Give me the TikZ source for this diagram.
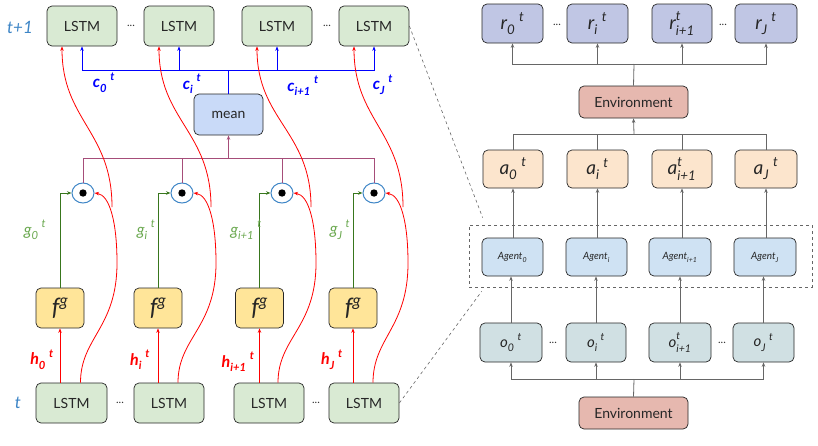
\documentclass[tikz,border=0pt]{standalone}
\usepackage{fontspec}
\setmainfont{Lato}
\usetikzlibrary{arrows.meta,calc,shapes.geometric}
\definecolor{lstmfill}{HTML}{D9EAD3}
\definecolor{fgfill}{HTML}{FFE599}
\definecolor{meanfill}{HTML}{C9DAF8}
\definecolor{rfill}{HTML}{C0C6E4}
\definecolor{envfill}{HTML}{E6B8AF}
\definecolor{afill}{HTML}{FCE5CD}
\definecolor{agfill}{HTML}{CFE2F3}
\definecolor{ofill}{HTML}{D0E0E3}
\definecolor{tblue}{HTML}{3D85C6}
\definecolor{ggreen}{HTML}{6AA84F}
\definecolor{dgreen}{HTML}{38761D}
\definecolor{purp}{HTML}{A64D79}
\definecolor{cblue}{HTML}{0000FF}
\definecolor{hred}{HTML}{FF0000}
\definecolor{edge}{HTML}{666666}
\newcommand\ssub[3]{#1\textsubscript{\raisebox{-0.2em}{#3}}\hspace{0.2em}\textsuperscript{\raisebox{0.1em}{#2}}}
\newcommand\susb[3]{#1\rlap{\textsuperscript{\raisebox{0.2em}{#2}}}\textsubscript{\raisebox{-0.25em}{#3}}}
\newcommand\agsub[1]{\textsubscript{\raisebox{-0.2em}{#1}}}
\tikzset{
  boxbase/.style={draw=black!85, rounded corners=5pt, line width=0.7pt, inner sep=0pt, text=black!85},
  lstmbox/.style={boxbase, fill=lstmfill, minimum width=70pt, minimum height=40pt, font=\fontsize{14}{16}\selectfont},
  fgbox/.style={boxbase, fill=fgfill, minimum width=48pt, minimum height=40pt, font=\fontsize{24}{26}\selectfont\itshape},
  meanbox/.style={boxbase, fill=meanfill, minimum width=69pt, minimum height=41pt, font=\fontsize{14}{16}\selectfont},
  rbox/.style={boxbase, fill=rfill, minimum height=39pt, font=\fontsize{19}{21}\selectfont\itshape},
  envbox/.style={boxbase, fill=envfill, minimum width=109pt, minimum height=32pt, font=\fontsize{14}{16}\selectfont},
  abox/.style={boxbase, fill=afill, minimum height=38pt, font=\fontsize{19}{21}\selectfont\itshape},
  agbox/.style={boxbase, fill=agfill, minimum height=38pt, font=\fontsize{10}{12}\selectfont\itshape},
  obox/.style={boxbase, fill=ofill, minimum height=39pt, font=\fontsize{15}{17}\selectfont\itshape},
  dotsl/.style={font=\fontsize{11}{12}\selectfont, text=black!80},
  prod/.style={ellipse, draw=tblue, line width=1pt, fill=white, minimum width=22pt, minimum height=20pt, inner sep=0pt},
  tip/.style={-{Stealth[length=4.5pt,width=3.5pt]}},
  redl/.style={draw=hred, line width=0.8pt},
  greyl/.style={draw=edge, line width=0.8pt},
  clab/.style={text=cblue, font=\fontsize{16}{18}\selectfont\bfseries\itshape},
  hlab/.style={text=hred, font=\fontsize{16}{18}\selectfont\bfseries\itshape},
  glab/.style={text=ggreen, font=\fontsize{16}{18}\selectfont\itshape},
  tlab/.style={text=tblue, font=\fontsize{17}{19}\selectfont\itshape},
}
\begin{document}
\begin{tikzpicture}[x=1pt,y=-1pt]
\useasboundingbox (0,0) rectangle (818,445);

% ---------- left: top LSTMs ----------
\node[lstmbox] (tl0) at (82,26) {LSTM};
\node[lstmbox] (tl1) at (179,26) {LSTM};
\node[lstmbox] (tl2) at (277,26) {LSTM};
\node[lstmbox] (tl3) at (374,26) {LSTM};
\node[dotsl] (td1) at (131,26) {...};
\node[dotsl] (td2) at (327,26) {...};
\node[tlab] (tp1) at (20,27) {t+1};

% mean
\node[meanbox] (mean) at (228.5,114.5) {mean};
\coordinate (cbus) at (228.5,70);
\coordinate (pbus) at (228.5,158);
\draw[draw=cblue, line width=0.9pt] (mean.north) -- (cbus);
\foreach \n in {tl0,tl1,tl2,tl3}
  \draw[draw=cblue, line width=0.9pt, tip] (cbus) -| (\n.south);
\draw[draw=purp, line width=0.8pt, tip] (pbus) -- (mean.south);

% c labels
\node[clab] (cl0) at (104,83) {\ssub{c}{t}{0}};
\node[clab] (cl1) at (192,84) {\ssub{c}{t}{i}};
\node[clab] (cl2) at (303,86) {\ssub{c}{t}{i+1}};
\node[clab] (cl3) at (383,85) {\ssub{c}{t}{J}};

% product circles
\foreach \i/\x in {0/83,1/182,2/282,3/374}{
  \node[prod] (pc\i) at (\x,193) {};
  \fill[black] (pc\i.center) circle (3.7pt);
  \draw[draw=purp, line width=0.8pt] (pbus) -| (pc\i.north);
}

% f^g boxes
\node[fgbox] (f0) at (60,308) {f\textsuperscript{g}};
\node[fgbox] (f1) at (158,308) {f\textsuperscript{g}};
\node[fgbox] (f2) at (259.5,308) {f\textsuperscript{g}};
\node[fgbox] (f3) at (353,308) {f\textsuperscript{g}};

% bottom LSTMs
\node[lstmbox, minimum width=71pt] (b0) at (71.5,403) {LSTM};
\node[lstmbox] (b1) at (169,403) {LSTM};
\node[lstmbox] (b2) at (269,403) {LSTM};
\node[lstmbox] (b3) at (364,403) {LSTM};
\node[dotsl] (bd1) at (120,403) {...};
\node[dotsl] (bd2) at (316,403) {...};
\node[tlab] (tt) at (18,403) {t};

% green, red connectors per column
\foreach \i in {0,1,2,3}{
  \draw[draw=dgreen, line width=0.8pt, tip] (f\i.north) |- (pc\i.west);
  \draw[redl, tip] (b\i.north -| f\i.south) -- (f\i.south);
  % curve from bottom LSTM into product
  \draw[redl, tip] ($(b\i.north)+(9,0)$) .. controls ($(b\i.north)+(9,-45)$) and ($(pc\i.center)+(34,135)$) .. ($(pc\i.center)+(34,70)$)
     .. controls ($(pc\i.center)+(34,30)$) and ($(pc\i.center)+(27,2)$) .. (pc\i.east);
  % curve from near product to top LSTM
  \draw[redl, tip] ($(pc\i.center)+(29,14)$) .. controls ($(pc\i.center)+(29,-62)$) and ($(tl\i.south)+(-20,74)$) .. ($(tl\i.south)+(-20,0)$);
}

% g labels
\node[glab] (gl0) at (35,230) {\ssub{g}{t}{0}};
\node[glab] (gl1) at (146,230) {\ssub{g}{t}{i}};
\node[glab] (gl2) at (246,230) {\ssub{g}{t}{i+1}};
\node[glab] (gl3) at (340,230) {\ssub{g}{t}{J}};

% h labels
\node[hlab] (hl0) at (42,360) {\ssub{h}{t}{0}};
\node[hlab] (hl1) at (140,360) {\ssub{h}{t}{i}};
\node[hlab] (hl2) at (238,362) {\ssub{h}{t}{i+1}};
\node[hlab] (hl3) at (332,360) {\ssub{h}{t}{J}};

% ---------- right side ----------
\node[rbox, minimum width=61pt] (r0) at (512.5,23.5) {\ssub{r}{t}{0}};
\node[rbox, minimum width=61pt] (r1) at (597.5,23.5) {\ssub{r}{t}{i}};
\node[rbox, minimum width=60pt] (r2) at (682,23.5) {\susb{r}{t}{i+1}};
\node[rbox, minimum width=62pt] (r3) at (766,23.5) {\ssub{r}{t}{J}};
\node[dotsl] (rd1) at (557,25) {...};
\node[dotsl] (rd2) at (723,25) {...};

\node[envbox] (envT) at (633.5,102) {Environment};
\coordinate (rbus) at (634,64);
\draw[greyl] (envT.north) -- (rbus);
\foreach \n in {r0,r1,r2,r3}
  \draw[greyl, tip] (rbus) -| (\n.south);

\node[abox, minimum width=60pt] (a0) at (513,169) {\ssub{a}{t}{0}};
\node[abox, minimum width=61pt] (a1) at (597.5,169) {\ssub{a}{t}{i}};
\node[abox, minimum width=60pt] (a2) at (682,169) {\susb{a}{t}{i+1}};
\node[abox, minimum width=62pt] (a3) at (766,169) {\ssub{a}{t}{J}};
\coordinate (abus) at (634,134);
\draw[greyl, tip] (abus) -- (envT.south);
\foreach \n in {a0,a1,a2,a3}
  \draw[greyl] (\n.north) |- (abus);

\node[draw=edge, dashed, line width=0.7pt, minimum width=343pt, minimum height=62pt, inner sep=0pt] (grp) at (640.5,256) {};
\node[agbox, minimum width=61pt] (g0) at (512.5,257) {Agent\agsub{0}};
\node[agbox, minimum width=61pt] (g1) at (596.5,257) {Agent\agsub{i}};
\node[agbox, minimum width=62pt] (g2) at (680,257) {Agent\agsub{i+1}};
\node[agbox, minimum width=62pt] (g3) at (765,257) {Agent\agsub{J}};
\foreach \i in {0,1,2,3}
  \draw[greyl, tip] (g\i.north -| a\i.south) -- (a\i.south);

\node[obox, minimum width=62pt] (o0) at (511,342.5) {\ssub{o}{t}{0}};
\node[obox, minimum width=60pt] (o1) at (596,342.5) {\ssub{o}{t}{i}};
\node[obox, minimum width=62pt] (o2) at (680,342.5) {\susb{o}{t}{i+1}};
\node[obox, minimum width=61pt] (o3) at (763.5,342.5) {\ssub{o}{t}{J}};
\node[dotsl] (od1) at (553,343) {...};
\node[dotsl] (od2) at (722,343) {...};
\foreach \i in {0,1,2,3}
  \draw[greyl, tip] (o\i.north) -- (o\i.north |- g\i.south);

\node[envbox] (envB) at (633.5,413) {Environment};
\coordinate (obus) at (634,379);
\draw[greyl] (envB.north) -- (obus);
\foreach \n in {o0,o1,o2,o3}
  \draw[greyl, tip] (obus) -| (\n.south);

% zoom lines
\coordinate (zu) at ($(grp.north west)+(14,-7)$);
\coordinate (zd) at ($(grp.south west)+(13,4)$);
\draw[draw=edge, dashed, line width=0.6pt] (tl3.east) -- (zu);
\draw[draw=edge, dashed, line width=0.6pt] (b3.east) -- (zd);
\end{tikzpicture}
\end{document}
